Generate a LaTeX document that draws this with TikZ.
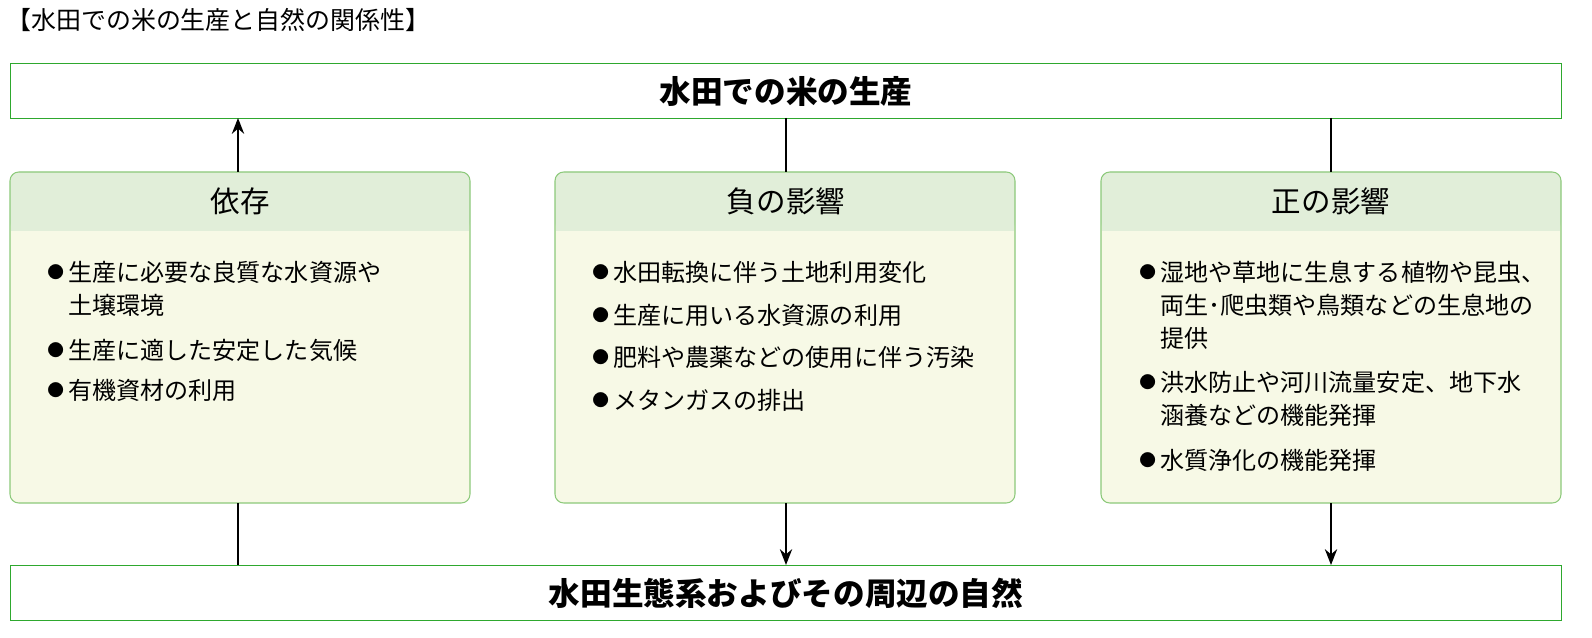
\documentclass[tikz,border=0pt]{standalone}
\usetikzlibrary{arrows.meta}
\usepackage{fontspec}
\setmainfont{Noto Sans CJK JP}
\definecolor{bord}{HTML}{2EA82E}
\definecolor{pbord}{HTML}{8CC97A}
\definecolor{head}{HTML}{E1EED9}
\definecolor{body}{HTML}{F7F9E6}
\begin{document}
\begin{tikzpicture}[x=0.02cm,y=-0.02cm,
  bigbox/.style={draw=bord,line width=0.5pt},
  panel/.style={draw=pbord,line width=0.6pt,rounded corners=5pt},
  conn/.style={line width=1.1pt},
  arr/.style={conn,-{Stealth[length=9pt,width=7pt]}},
  bt/.style={anchor=west,inner sep=0,font=\fontsize{13.7}{16}\selectfont},
  bu/.style={anchor=west,inner sep=0,font=\fontsize{9.5}{12}\selectfont},
  ht/.style={font=\fontsize{16.8}{19}\selectfont},
  tt/.style={font=\fontsize{18}{21}\selectfont\bfseries}]
\useasboundingbox (0,0) rectangle (1592,638);
\node[anchor=west,inner sep=0,font=\fontsize{14.2}{16}\selectfont] (title) at (6,20) {【水田での米の生産と自然の関係性】};
\draw[bigbox] (10,63) rectangle (1561,118);
\node[tt] (top) at (786,91) {水田での米の生産};
\draw[bigbox] (10,565) rectangle (1561,620);
\node[tt] (bot) at (786,593) {水田生態系およびその周辺の自然};
\foreach \x/\n in {10/A,555/B,1101/C}{
  \fill[body,rounded corners=5pt] (\x,172) rectangle ++(460,331);
  \fill[head,rounded corners=5pt] (\x,172) rectangle ++(460,59);
  \fill[head] (\x+1,210) rectangle ++(458,21);
  \draw[panel] (\x,172) rectangle ++(460,331);
}
\node[ht] (hA) at (240,201) {依存};
\node[ht] (hB) at (786,201) {負の影響};
\node[ht] (hC) at (1331,201) {正の影響};
% connectors
\coordinate (a1) at (238,172); \coordinate (a2) at (238,118);
\coordinate (a3) at (238,503); \coordinate (a4) at (238,565);
\draw[arr] (a1) -- (a2); \draw[conn] (a3) -- (a4);
\coordinate (b1) at (786,118); \coordinate (b2) at (786,172);
\coordinate (b3) at (786,503); \coordinate (b4) at (786,565);
\draw[conn] (b1) -- (b2); \draw[arr] (b3) -- (b4);
\coordinate (c1) at (1331,118); \coordinate (c2) at (1331,172);
\coordinate (c3) at (1331,503); \coordinate (c4) at (1331,565);
\draw[conn] (c1) -- (c2); \draw[arr] (c3) -- (c4);
% bullets
\foreach \x/\y in {47/272,47/350,47/390,592/272,592/315,592/357,592/400,1139/272,1139/382,1139/460}
  \node[bu] at (\x,\y) {●};
% left
\node[bt] (l1) at (68,272) {生産に必要な良質な水資源や};
\node[bt] (l1b) at (68,305) {土壌環境};
\node[bt] (l2) at (68,350) {生産に適した安定した気候};
\node[bt] (l3) at (68,390) {有機資材の利用};
% middle
\node[bt] (m1) at (613,272) {水田転換に伴う土地利用変化};
\node[bt] (m2) at (613,315) {生産に用いる水資源の利用};
\node[bt] (m3) at (613,357) {肥料や農薬などの使用に伴う汚染};
\node[bt] (m4) at (613,400) {メタンガスの排出};
% right
\node[bt] (r1) at (1160,272) {湿地や草地に生息する植物や昆虫、};
\node[bt] (r1b) at (1160,305) {両生･爬虫類や鳥類などの生息地の};
\node[bt] (r1c) at (1160,338) {提供};
\node[bt] (r2) at (1160,382) {洪水防止や河川流量安定、地下水};
\node[bt] (r2b) at (1160,415) {涵養などの機能発揮};
\node[bt] (r3) at (1160,460) {水質浄化の機能発揮};
\end{tikzpicture}
\end{document}
